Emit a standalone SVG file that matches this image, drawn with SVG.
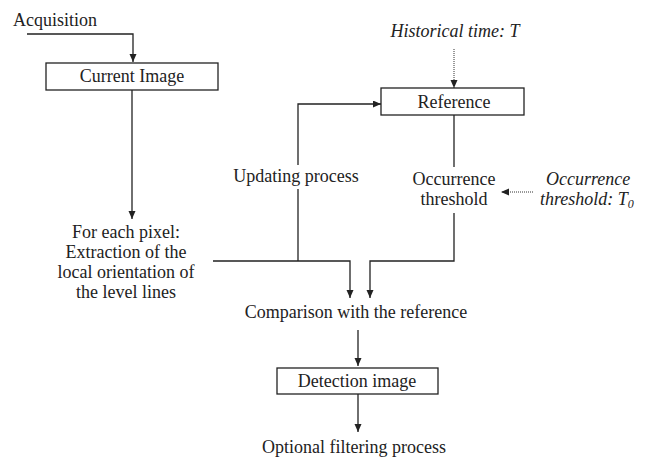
<svg xmlns="http://www.w3.org/2000/svg" width="648" height="460" viewBox="0 0 648 460">
<style>
text{font-family:"Liberation Serif","Times New Roman",serif;font-size:18px;fill:#222}
.c{text-anchor:middle}
.i{font-style:italic}
.box{fill:#fff;stroke:#222;stroke-width:1.3}
.ln{fill:none;stroke:#222;stroke-width:1.3}
.dot{fill:none;stroke:#333;stroke-width:1;stroke-dasharray:1,1}
</style>
<defs>
<marker id="ah" markerUnits="userSpaceOnUse" markerWidth="9" markerHeight="8" refX="8" refY="3.5" orient="auto">
<path d="M0,0 L8,3.5 L0,7 z" fill="#222"/>
</marker>
</defs>
<rect width="648" height="460" fill="#fff"/>
<g id="connectors">
<path class="ln" d="M27,34 H133 V62" marker-end="url(#ah)"/>
<path class="ln" d="M132,90 V219" marker-end="url(#ah)"/>
<path class="ln" d="M213,261 H350 V298" marker-end="url(#ah)"/>
<path class="ln" d="M298,261 V189"/>
<path class="ln" d="M298,165 V104 H381" marker-end="url(#ah)"/>
<path class="dot" d="M454,49 V88" marker-end="url(#ah)"/>
<path class="ln" d="M454,115 V167"/>
<path class="ln" d="M454,213 V261 H370 V298" marker-end="url(#ah)"/>
<path class="dot" d="M533,192 H501" marker-end="url(#ah)"/>
<path class="ln" d="M358,330 V366" marker-end="url(#ah)"/>
<path class="ln" d="M358,394 V432" marker-end="url(#ah)"/>
</g>
<g id="acquisition"><text x="13" y="26">Acquisition</text></g>
<g id="current-image">
<rect class="box" x="46" y="63" width="172" height="27"/>
<text class="c" x="132" y="82">Current Image</text>
</g>
<g id="extraction">
<text class="c" x="126" y="238">For each pixel:</text>
<text class="c" x="126" y="258">Extraction of the</text>
<text class="c" x="126" y="278">local orientation of</text>
<text class="c" x="126" y="298">the level lines</text>
</g>
<g id="updating"><text class="c" x="296" y="182">Updating process</text></g>
<g id="historical"><text class="c i" x="455" y="37">Historical time: T</text></g>
<g id="reference">
<rect class="box" x="381" y="88" width="143" height="27"/>
<text class="c" x="454" y="108">Reference</text>
</g>
<g id="occurrence">
<text class="c" x="454" y="185">Occurrence</text>
<text class="c" x="454" y="205">threshold</text>
</g>
<g id="occurrence-param">
<text class="i" x="546" y="185">Occurrence</text>
<text class="i" x="540" y="205">threshold: T<tspan font-size="12" dy="3">0</tspan></text>
</g>
<g id="comparison"><text class="c" x="356" y="318">Comparison with the reference</text></g>
<g id="detection">
<rect class="box" x="277" y="368" width="161" height="26"/>
<text class="c" x="357" y="387">Detection image</text>
</g>
<g id="filtering"><text class="c" x="354" y="453">Optional filtering process</text></g>
</svg>
